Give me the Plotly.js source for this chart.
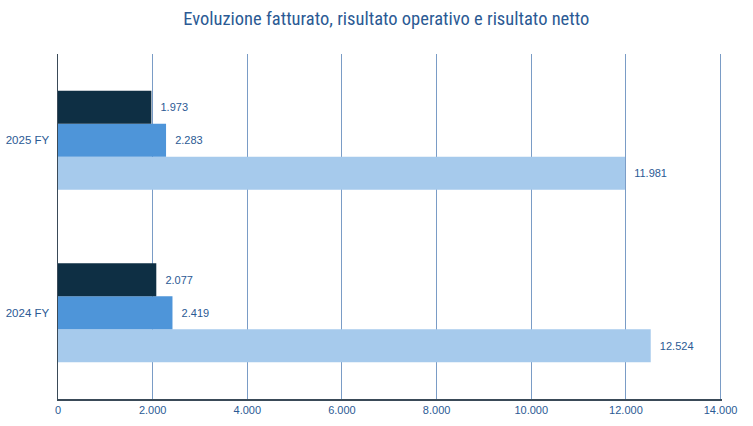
<!DOCTYPE html>
<html>
<head>
<meta charset="utf-8">
<script src="https://cdn.plot.ly/plotly-3.0.1.min.js"></script>
<style>html,body{margin:0;padding:0;background:#fff;}</style>
</head>
<body>
<div id="chart" style="width:753px;height:426px;"></div>
<script>
var periods = ['2024 FY', '2025 FY'];
var fatturato = [12524, 11981];
var risultatoOperativo = [2419, 2283];
var risultatoNetto = [2077, 1973];

var fmt = function(v){ return '\u00a0\u00a0' + v.toLocaleString('it-IT'); };
var txtFont = {family: 'Liberation Sans, Arial, sans-serif', size: 11, color: '#2B5A94'};

function series(name, vals, color){
    return {
        name: name,
        type: 'bar',
        orientation: 'h',
        y: periods,
        x: vals,
        text: vals.map(fmt),
        textposition: 'outside',
        textfont: txtFont,
        cliponaxis: false,
        hoverinfo: 'none',
        marker: {color: color}
    };
}

var data = [
    series('Fatturato', fatturato, '#A6CAEC'),
    series('Risultato operativo', risultatoOperativo, '#4E95D9'),
    series('Risultato netto', risultatoNetto, '#0E2F44')
];

var layout = {
    width: 753, height: 426,
    margin: {l: 58, r: 31, t: 54, b: 27},
    barmode: 'group',
    bargap: 0.426,
    bargroupgap: 0,
    showlegend: false,
    separators: ',.',
    paper_bgcolor: '#fff',
    plot_bgcolor: '#fff',
    font: {family: 'Liberation Sans, Arial, sans-serif', color: '#2B5A94'},
    title: {
        text: 'Evoluzione fatturato, risultato operativo e risultato netto',
        font: {family: 'Liberation Sans Narrow, Roboto Condensed, Liberation Sans, sans-serif', size: 18.5, color: '#2B5A94'},
        x: 0.513, xanchor: 'center', y: 0.957, yanchor: 'middle'
    },
    xaxis: {
        range: [0, 14030],
        tickvals: [0, 2000, 4000, 6000, 8000, 10000, 12000, 14000],
        tickformat: ',d',
        showgrid: true,
        gridcolor: '#7A9CC6',
        gridwidth: 1,
        zeroline: false,
        showline: true,
        linecolor: '#3A4A58',
        linewidth: 1.5,
        ticks: '',
        tickfont: {size: 11, color: '#2B5A94'},
        fixedrange: true
    },
    yaxis: {
        categoryorder: 'array',
        categoryarray: periods,
        showline: true,
        linecolor: '#3A4A58',
        linewidth: 1.5,
        ticks: '',
        ticklabelstandoff: 5,
        tickfont: {size: 11.5, color: '#2B5A94'},
        showgrid: false,
        zeroline: false,
        fixedrange: true
    }
};

var config = {displayModeBar: false, staticPlot: true};
Plotly.newPlot('chart', data, layout, config);
</script>
</body>
</html>
